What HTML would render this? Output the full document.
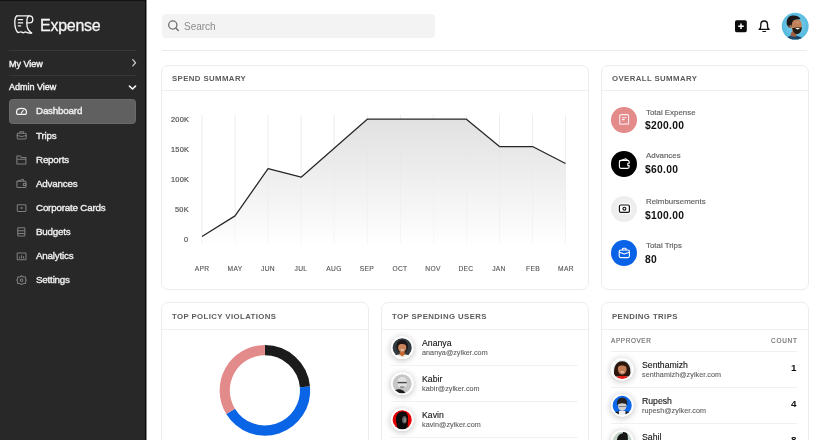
<!DOCTYPE html>
<html><head><meta charset="utf-8">
<style>
*{margin:0;padding:0;box-sizing:border-box}
html,body{width:825px;height:440px;overflow:hidden;background:#fff;font-family:"Liberation Sans",sans-serif}
div{position:absolute;white-space:nowrap;line-height:1;will-change:transform}
svg{position:absolute;overflow:visible}
</style></head><body>

<div style="left:0;top:0;width:146px;height:440px;background:#282828;border-right:1px solid #0a0a0a"></div>
<div style="left:0;top:0;width:145px;height:1px;background:#121212"></div>
<div style="left:146px;top:0;width:1px;height:440px;background:#8a8a8a"></div>
<svg style="left:0;top:0" width="146" height="50" viewBox="0 0 146 50">
<g fill="none" stroke="#f4f4f4" stroke-width="1.35" stroke-linecap="round" stroke-linejoin="round">
<path d="M16.9 15.9 H29.4 C31.6 15.9 32.8 17.6 32.8 19.5 C32.8 21.5 31.5 22.9 29.6 22.9 H26.8"/>
<path d="M29.2 15.9 C27.6 16.6 26.9 18.6 26.9 21 V24.5 C26.9 28.2 28.6 31 31.6 33"/>
<path d="M16.9 15.9 C15.5 16.8 14.8 18.8 14.8 22.3 C14.8 26.5 15.7 30.2 17.6 32.3"/>
<path d="M17.6 32.3 C18.8 33.3 19.6 31.4 21 31.9 C22.3 32.5 23.2 33.3 24.4 32.3 C25.6 31.4 26.8 32.7 28 32.8 C29.2 33 30.3 33 31.6 33"/>
<path d="M18.3 19.7 H22.6 M18.3 22.9 H22.6 M18.3 25.9 H20.6" stroke-width="1.3"/>
</g></svg>
<div style="left:39.8px;top:18.4px;font-size:16px;color:#f4f4f4;letter-spacing:-0.25px;-webkit-text-stroke:0.3px #f4f4f4">Expense</div>
<div style="left:9px;top:50px;width:127px;height:1px;background:#373737"></div>
<div style="left:9px;top:75px;width:127px;height:1px;background:#373737"></div>
<div style="left:9px;top:59.5px;font-size:9px;color:#f2f2f2;-webkit-text-stroke:0.4px #f2f2f2">My View</div>
<div style="left:9px;top:82.5px;font-size:9px;color:#f2f2f2;-webkit-text-stroke:0.4px #f2f2f2">Admin View</div>
<svg style="left:0;top:0" width="146" height="100" viewBox="0 0 146 100">
<path d="M132.8 59.6 L135.5 62.8 L132.8 65.9" fill="none" stroke="#c4c4c4" stroke-width="1.35" stroke-linecap="round" stroke-linejoin="round"/>
<path d="M129.5 86.1 L132.5 89 L135.5 86.1" fill="none" stroke="#f4f4f4" stroke-width="1.6" stroke-linecap="round" stroke-linejoin="round"/>
</svg>
<div style="left:9px;top:98.8px;width:127px;height:24.7px;background:#606060;border:1px solid #6a6a6a;border-radius:3.5px"></div>
<div style="left:35.8px;top:106.40px;font-size:9.8px;letter-spacing:-0.2px;color:#f0f0f0;-webkit-text-stroke:0.35px #f0f0f0">Dashboard</div>
<div style="left:35.8px;top:130.50px;font-size:9.8px;letter-spacing:-0.2px;color:#f0f0f0;-webkit-text-stroke:0.35px #f0f0f0">Trips</div>
<div style="left:35.8px;top:154.60px;font-size:9.8px;letter-spacing:-0.2px;color:#f0f0f0;-webkit-text-stroke:0.35px #f0f0f0">Reports</div>
<div style="left:35.8px;top:178.70px;font-size:9.8px;letter-spacing:-0.2px;color:#f0f0f0;-webkit-text-stroke:0.35px #f0f0f0">Advances</div>
<div style="left:35.8px;top:202.80px;font-size:9.8px;letter-spacing:-0.2px;color:#f0f0f0;-webkit-text-stroke:0.35px #f0f0f0">Corporate Cards</div>
<div style="left:35.8px;top:226.90px;font-size:9.8px;letter-spacing:-0.2px;color:#f0f0f0;-webkit-text-stroke:0.35px #f0f0f0">Budgets</div>
<div style="left:35.8px;top:251.00px;font-size:9.8px;letter-spacing:-0.2px;color:#f0f0f0;-webkit-text-stroke:0.35px #f0f0f0">Analytics</div>
<div style="left:35.8px;top:275.10px;font-size:9.8px;letter-spacing:-0.2px;color:#f0f0f0;-webkit-text-stroke:0.35px #f0f0f0">Settings</div>
<svg style="left:0;top:0" width="146" height="300" viewBox="0 0 146 300">
<g fill="none" stroke="#7e7e7e" stroke-width="1.05" stroke-linecap="round" stroke-linejoin="round">
<path d="M17.3 114.4 C16.6 113.6 16.5 112.8 16.5 111.9 C16.5 109.6 18.8 108.3 21.5 108.3 C24.2 108.3 26.5 109.6 26.5 111.9 C26.5 112.8 26.4 113.6 25.7 114.4 Z" stroke="#f4f4f4" stroke-width="1.25"/>
<path d="M21.2 113 L23.2 110.5" stroke="#f4f4f4" stroke-width="1.2"/>
<rect x="17.2" y="133.3" width="9" height="5.7" rx="0.9"/><path d="M19.9 133.3 V131.8 H23.5 V133.3 M17.2 135.6 L21.7 136.6 L26.2 135.6"/>
<path d="M16.9 164 V156 H20.3 L21.3 157.5 H25.9 V164 Z M16.9 159.2 H25.9"/>
<rect x="16.9" y="181.2" width="9" height="6.3" rx="0.8"/><path d="M17.4 181.2 L23.2 179.3 L23.8 181.2 M23.4 183.4 H25.9 V185.5 H23.4 Z"/>
<rect x="17.3" y="204.7" width="8.6" height="6.7" rx="0.6"/><circle cx="21.6" cy="208" r="0.55" fill="#7e7e7e"/>
<rect x="17.8" y="227.8" width="7" height="8.2" rx="0.6"/><path d="M17.8 230.8 H24.8 M17.8 233.4 H24.8"/>
<rect x="17.2" y="253" width="8.8" height="6.8" rx="0.6"/><path d="M19.6 258 V257 M21.6 258 V255.6 M23.6 258 V256.6"/>
<path d="M21.6 275.8 L23.4 277 L25.5 277 L25.6 279.2 L26.4 280.2 L25.6 281.2 L25.5 283.4 L23.4 283.4 L21.6 284.6 L19.8 283.4 L17.7 283.4 L17.6 281.2 L16.8 280.2 L17.6 279.2 L17.7 277 L19.8 277 Z"/><circle cx="21.6" cy="280.2" r="1.3"/>
</g></svg>
<div style="left:162px;top:14px;width:273px;height:24px;background:#f3f3f3;border-radius:4px"></div>
<svg style="left:0;top:0" width="200" height="50" viewBox="0 0 200 50">
<circle cx="172.8" cy="25" r="4.1" fill="none" stroke="#6c6c6c" stroke-width="1.3"/>
<path d="M175.8 28 L178.3 30.5" stroke="#6c6c6c" stroke-width="1.4" stroke-linecap="round"/>
</svg>
<div style="left:184px;top:21.6px;font-size:10px;color:#8c8c8c">Search</div>
<div style="left:162px;top:50px;width:645px;height:1px;background:#ebebeb"></div>
<svg style="left:0;top:0" width="825" height="50" viewBox="0 0 825 50">
<rect x="735" y="20.2" width="11.8" height="12" rx="1.6" fill="#0b0b0b"/>
<path d="M741 23.5 V29.1 M738.2 26.3 H743.8" stroke="#fff" stroke-width="1.5"/>
<path d="M759.2 29.4 C760.4 28.7 760.8 27.6 760.8 26.2 V24.6 C760.8 22.4 762.3 21 764.15 21 C766 21 767.5 22.4 767.5 24.6 V26.2 C767.5 27.6 767.9 28.7 769.1 29.4 Z" fill="none" stroke="#111" stroke-width="1.35" stroke-linejoin="round"/>
<path d="M762.8 31.5 H765.6" stroke="#111" stroke-width="1.2" stroke-linecap="round"/>
</svg>
<svg style="left:0;top:0" width="825" height="50" viewBox="0 0 825 50">
<defs><clipPath id="cav"><circle cx="795.2" cy="26.2" r="13.4"/></clipPath>
<radialGradient id="gav" cx="0.5" cy="0.45" r="0.6"><stop offset="0" stop-color="#86d3ee"/><stop offset="1" stop-color="#4cb5dc"/></radialGradient>
<filter id="bl1"><feGaussianBlur stdDeviation="0.35"/></filter></defs>
<circle cx="795.2" cy="26.2" r="13.4" fill="url(#gav)"/>
<g clip-path="url(#cav)" filter="url(#bl1)">
<path d="M784 41 C786 37.5 789 35.5 793 35.5 C798 35.5 802 37 805.5 41 Z" fill="#1f4a6a"/>
<path d="M790.5 36 C791 33 791.5 31.5 793 31 L797 33 C796.5 35 796 36 795.5 37 Z" fill="#9a5f40"/>
<path d="M791.3 23 C791.3 28 792 32.8 795.8 33.8 C799.6 34.6 801.8 31 801.8 25.5 C801.8 21 799.5 19.3 796.5 19.4 C793.8 19.5 791.4 20.5 791.3 23 Z" fill="#c08058"/>
<path d="M786.8 24.5 C786.2 20 787.8 16.3 792 15.6 C796 15 799.6 16.2 800.6 19.6 C798.5 19 796 19.3 794 20.2 C792.4 21 791.8 23.2 791.6 26.8 C790.2 26.8 788.2 26.5 786.8 24.5 Z" fill="#1d1816"/>
<path d="M786.8 24.5 C787.5 26.5 788.5 27.5 790 28 L791.2 26.8 C790 26 788.5 25.5 786.8 24.5 Z" fill="#4a4440"/>
<ellipse cx="790.6" cy="26.4" rx="1.2" ry="1.7" fill="#a86a48"/>
<path d="M792.2 28 C792.8 32 794.5 34 796.8 34 C799.8 34 801.8 31.5 801.8 27 C800.8 27.8 799.8 27.6 798 27.4 C795.8 27.3 793.8 28 792.2 28 Z" fill="#211a17"/>
<path d="M795.3 28.1 Q797.6 30.8 800 28 Z" fill="#f6f2ec"/>
<ellipse cx="797.5" cy="22.5" rx="2" ry="1" fill="#d9a07a" opacity="0.6"/>
</g></svg>
<div style="left:161px;top:64.5px;width:427.5px;height:225px;border:1px solid #ececec;border-radius:7px;background:#fff"></div>
<div style="left:162px;top:90.0px;width:425.5px;height:1px;background:#efefef"></div>
<div style="left:171.8px;top:75.0px;font-size:8px;color:#5a5a5a;letter-spacing:0.4px;font-size:7.8px;color:#5c5c5c;font-weight:bold">SPEND SUMMARY</div>
<div style="left:601px;top:64.5px;width:208px;height:225px;border:1px solid #ececec;border-radius:7px;background:#fff"></div>
<div style="left:602px;top:90.0px;width:206px;height:1px;background:#efefef"></div>
<div style="left:611.8px;top:75.0px;font-size:8px;color:#5a5a5a;letter-spacing:0.4px;font-size:7.8px;color:#5c5c5c;font-weight:bold">OVERALL SUMMARY</div>
<div style="left:161px;top:302px;width:208px;height:160px;border:1px solid #ececec;border-radius:7px;background:#fff"></div>
<div style="left:162px;top:329px;width:206px;height:1px;background:#efefef"></div>
<div style="left:171.8px;top:312.5px;font-size:8px;color:#5a5a5a;letter-spacing:0.4px;font-size:7.8px;color:#5c5c5c;font-weight:bold">TOP POLICY VIOLATIONS</div>
<div style="left:381px;top:302px;width:208px;height:160px;border:1px solid #ececec;border-radius:7px;background:#fff"></div>
<div style="left:382px;top:329px;width:206px;height:1px;background:#efefef"></div>
<div style="left:391.8px;top:312.5px;font-size:8px;color:#5a5a5a;letter-spacing:0.4px;font-size:7.8px;color:#5c5c5c;font-weight:bold">TOP SPENDING USERS</div>
<div style="left:601px;top:302px;width:208px;height:160px;border:1px solid #ececec;border-radius:7px;background:#fff"></div>
<div style="left:602px;top:329px;width:206px;height:1px;background:#efefef"></div>
<div style="left:611.8px;top:312.5px;font-size:8px;color:#5a5a5a;letter-spacing:0.4px;font-size:7.8px;color:#5c5c5c;font-weight:bold">PENDING TRIPS</div>
<svg style="left:0;top:0" width="825" height="300" viewBox="0 0 825 300">
<defs><linearGradient id="ga" x1="0" y1="0" x2="0" y2="1"><stop offset="0" stop-color="#dedede"/><stop offset="1" stop-color="#ffffff"/></linearGradient></defs>
<line x1="202.00" y1="115" x2="202.00" y2="244" stroke="#f1f1f1" stroke-width="1"/>
<line x1="235.05" y1="115" x2="235.05" y2="244" stroke="#f1f1f1" stroke-width="1"/>
<line x1="268.10" y1="115" x2="268.10" y2="244" stroke="#f1f1f1" stroke-width="1"/>
<line x1="301.15" y1="115" x2="301.15" y2="244" stroke="#f1f1f1" stroke-width="1"/>
<line x1="334.20" y1="115" x2="334.20" y2="244" stroke="#f1f1f1" stroke-width="1"/>
<line x1="367.25" y1="115" x2="367.25" y2="244" stroke="#f1f1f1" stroke-width="1"/>
<line x1="400.30" y1="115" x2="400.30" y2="244" stroke="#f1f1f1" stroke-width="1"/>
<line x1="433.35" y1="115" x2="433.35" y2="244" stroke="#f1f1f1" stroke-width="1"/>
<line x1="466.40" y1="115" x2="466.40" y2="244" stroke="#f1f1f1" stroke-width="1"/>
<line x1="499.45" y1="115" x2="499.45" y2="244" stroke="#f1f1f1" stroke-width="1"/>
<line x1="532.50" y1="115" x2="532.50" y2="244" stroke="#f1f1f1" stroke-width="1"/>
<line x1="565.55" y1="115" x2="565.55" y2="244" stroke="#f1f1f1" stroke-width="1"/>
<polygon points="202.00,244 202.00,236.50 235.05,215.90 268.10,168.60 301.15,177.20 334.20,148.20 367.25,119.20 400.30,119.20 433.35,119.20 466.40,119.20 499.45,146.50 532.50,146.50 565.55,163.50 565.55,244" fill="url(#ga)" opacity="0.9"/>
<line x1="202.00" y1="115" x2="202.00" y2="244" stroke="#e6e6e6" stroke-width="0.6" opacity="0.5"/>
<line x1="235.05" y1="115" x2="235.05" y2="244" stroke="#e6e6e6" stroke-width="0.6" opacity="0.5"/>
<line x1="268.10" y1="115" x2="268.10" y2="244" stroke="#e6e6e6" stroke-width="0.6" opacity="0.5"/>
<line x1="301.15" y1="115" x2="301.15" y2="244" stroke="#e6e6e6" stroke-width="0.6" opacity="0.5"/>
<line x1="334.20" y1="115" x2="334.20" y2="244" stroke="#e6e6e6" stroke-width="0.6" opacity="0.5"/>
<line x1="367.25" y1="115" x2="367.25" y2="244" stroke="#e6e6e6" stroke-width="0.6" opacity="0.5"/>
<line x1="400.30" y1="115" x2="400.30" y2="244" stroke="#e6e6e6" stroke-width="0.6" opacity="0.5"/>
<line x1="433.35" y1="115" x2="433.35" y2="244" stroke="#e6e6e6" stroke-width="0.6" opacity="0.5"/>
<line x1="466.40" y1="115" x2="466.40" y2="244" stroke="#e6e6e6" stroke-width="0.6" opacity="0.5"/>
<line x1="499.45" y1="115" x2="499.45" y2="244" stroke="#e6e6e6" stroke-width="0.6" opacity="0.5"/>
<line x1="532.50" y1="115" x2="532.50" y2="244" stroke="#e6e6e6" stroke-width="0.6" opacity="0.5"/>
<line x1="565.55" y1="115" x2="565.55" y2="244" stroke="#e6e6e6" stroke-width="0.6" opacity="0.5"/>
<polyline points="202.00,236.50 235.05,215.90 268.10,168.60 301.15,177.20 334.20,148.20 367.25,119.20 400.30,119.20 433.35,119.20 466.40,119.20 499.45,146.50 532.50,146.50 565.55,163.50" fill="none" stroke="#262626" stroke-width="1.25" stroke-linejoin="round"/>
</svg>
<div style="right:636.2px;top:115.90px;font-size:7.4px;color:#555;letter-spacing:0.25px;-webkit-text-stroke:0.2px #555">200K</div>
<div style="right:636.2px;top:146.00px;font-size:7.4px;color:#555;letter-spacing:0.25px;-webkit-text-stroke:0.2px #555">150K</div>
<div style="right:636.2px;top:176.10px;font-size:7.4px;color:#555;letter-spacing:0.25px;-webkit-text-stroke:0.2px #555">100K</div>
<div style="right:636.2px;top:206.20px;font-size:7.4px;color:#555;letter-spacing:0.25px;-webkit-text-stroke:0.2px #555">50K</div>
<div style="right:636.2px;top:236.40px;font-size:7.4px;color:#555;letter-spacing:0.25px;-webkit-text-stroke:0.2px #555">0</div>
<div style="left:182.00px;width:40px;text-align:center;top:266px;font-size:6.7px;color:#555;letter-spacing:0.3px;-webkit-text-stroke:0.12px #555">APR</div>
<div style="left:215.05px;width:40px;text-align:center;top:266px;font-size:6.7px;color:#555;letter-spacing:0.3px;-webkit-text-stroke:0.12px #555">MAY</div>
<div style="left:248.10px;width:40px;text-align:center;top:266px;font-size:6.7px;color:#555;letter-spacing:0.3px;-webkit-text-stroke:0.12px #555">JUN</div>
<div style="left:281.15px;width:40px;text-align:center;top:266px;font-size:6.7px;color:#555;letter-spacing:0.3px;-webkit-text-stroke:0.12px #555">JUL</div>
<div style="left:314.20px;width:40px;text-align:center;top:266px;font-size:6.7px;color:#555;letter-spacing:0.3px;-webkit-text-stroke:0.12px #555">AUG</div>
<div style="left:347.25px;width:40px;text-align:center;top:266px;font-size:6.7px;color:#555;letter-spacing:0.3px;-webkit-text-stroke:0.12px #555">SEP</div>
<div style="left:380.30px;width:40px;text-align:center;top:266px;font-size:6.7px;color:#555;letter-spacing:0.3px;-webkit-text-stroke:0.12px #555">OCT</div>
<div style="left:413.35px;width:40px;text-align:center;top:266px;font-size:6.7px;color:#555;letter-spacing:0.3px;-webkit-text-stroke:0.12px #555">NOV</div>
<div style="left:446.40px;width:40px;text-align:center;top:266px;font-size:6.7px;color:#555;letter-spacing:0.3px;-webkit-text-stroke:0.12px #555">DEC</div>
<div style="left:479.45px;width:40px;text-align:center;top:266px;font-size:6.7px;color:#555;letter-spacing:0.3px;-webkit-text-stroke:0.12px #555">JAN</div>
<div style="left:512.50px;width:40px;text-align:center;top:266px;font-size:6.7px;color:#555;letter-spacing:0.3px;-webkit-text-stroke:0.12px #555">FEB</div>
<div style="left:545.55px;width:40px;text-align:center;top:266px;font-size:6.7px;color:#555;letter-spacing:0.3px;-webkit-text-stroke:0.12px #555">MAR</div>
<div style="left:611.4px;top:107.20px;width:25.8px;height:25.8px;border-radius:50%;background:#e38a8a"></div>
<div style="left:645.6px;top:108.50px;font-size:7.9px;color:#606060;-webkit-text-stroke:0.15px #606060">Total Expense</div>
<div style="left:645.4px;top:120.70px;font-size:10.3px;color:#111;font-weight:bold;letter-spacing:0.3px">$200.00</div>
<div style="left:611.4px;top:150.80px;width:25.8px;height:25.8px;border-radius:50%;background:#000000"></div>
<div style="left:645.6px;top:152.40px;font-size:7.9px;color:#606060;-webkit-text-stroke:0.15px #606060">Advances</div>
<div style="left:645.4px;top:165.10px;font-size:10.3px;color:#111;font-weight:bold;letter-spacing:0.3px">$60.00</div>
<div style="left:611.4px;top:195.70px;width:25.8px;height:25.8px;border-radius:50%;background:#eeeeee"></div>
<div style="left:645.6px;top:198.20px;font-size:7.9px;color:#606060;-webkit-text-stroke:0.15px #606060">Reimbursements</div>
<div style="left:645.4px;top:210.80px;font-size:10.3px;color:#111;font-weight:bold;letter-spacing:0.3px">$100.00</div>
<div style="left:611.4px;top:239.70px;width:25.8px;height:25.8px;border-radius:50%;background:#0a63e6"></div>
<div style="left:645.6px;top:242.20px;font-size:7.9px;color:#606060;-webkit-text-stroke:0.15px #606060">Total Trips</div>
<div style="left:645.4px;top:254.50px;font-size:10.3px;color:#111;font-weight:bold;letter-spacing:0.3px">80</div>
<svg style="left:0;top:0" width="825" height="300" viewBox="0 0 825 300">
<g fill="none" stroke="#fdf0f0" stroke-width="1.05" stroke-linejoin="round" stroke-linecap="round">
<path d="M621.2 114.6 H627.2 C628.1 114.6 628.6 115.1 628.6 116 V123.4 C628.6 124 628.2 124.4 627.6 124.2 C626.8 123.9 626 123.6 625.2 123.8 C624.5 124 623.8 124.3 623 124.2 C622.2 124 621.6 123.8 620.9 124.1 C620.3 124.3 619.7 124 619.7 123.4 V116 C619.7 115.1 620.3 114.6 621.2 114.6 Z"/>
<path d="M622.4 117.8 H626 M622.4 119.6 H624.2"/>
</g>
<g fill="none" stroke="#ffffff" stroke-width="1.1" stroke-linejoin="round" stroke-linecap="round">
<path d="M621 160.4 H627.6 C628.6 160.4 629.2 161 629.2 162 V163.3 H627.8 V165.6 H629.2 V166.8 C629.2 167.8 628.6 168.4 627.6 168.4 H621 C620 168.4 619.4 167.8 619.4 166.8 V162 C619.4 161 620 160.4 621 160.4 Z"/>
<path d="M619.8 161 L625.6 158.8 L627.6 160.4"/>
</g>
<rect x="617.6" y="203.2" width="13.6" height="10.8" rx="2.5" fill="#ffffff" opacity="0.9"/>
<g fill="none" stroke="#151515" stroke-width="1.2">
<rect x="619.4" y="205" width="10" height="7.4" rx="1.4"/>
<circle cx="624.4" cy="208.7" r="1.45"/>
</g>
<g fill="none" stroke="#fff" stroke-width="1.1" stroke-linejoin="round" stroke-linecap="round">
<rect x="619.2" y="250" width="10.2" height="7.6" rx="1.5"/>
<path d="M622.6 250 V248.7 C622.6 248.4 622.8 248.3 623.1 248.3 H625.5 C625.8 248.3 626 248.4 626 248.7 V250 M619.4 252.2 L624.3 254 L629.2 252.2"/>
</g>
</svg>
<svg style="left:0;top:0" width="825" height="440" viewBox="0 0 825 440"><path d="M264.90 350.20 A40.2 40.2 0 0 1 304.95 386.90" fill="none" stroke="#1b1b1b" stroke-width="10.2"/><path d="M304.95 386.90 A40.2 40.2 0 0 1 230.62 411.40" fill="none" stroke="#0a64e6" stroke-width="10.2"/><path d="M230.62 411.40 A40.2 40.2 0 0 1 264.90 350.20" fill="none" stroke="#e38a8a" stroke-width="10.2"/></svg>
<svg style="left:0;top:0" width="0" height="0"><defs><filter id="sh" x="-80%" y="-80%" width="260%" height="260%"><feGaussianBlur in="SourceAlpha" stdDeviation="3.6"/><feOffset dy="0.5" result="b"/><feComponentTransfer><feFuncA type="linear" slope="0.28"/></feComponentTransfer><feMerge><feMergeNode/><feMergeNode in="SourceGraphic"/></feMerge></filter><filter id="bl2"><feGaussianBlur stdDeviation="0.4"/></filter></defs></svg>
<svg style="left:0;top:0" width="825" height="460" viewBox="0 0 825 460"><defs><clipPath id="cananya"><circle cx="402.2" cy="347.7" r="9.55"/></clipPath></defs><circle cx="402.2" cy="347.7" r="11.25" fill="#fff" filter="url(#sh)"/><g clip-path="url(#cananya)" filter="url(#bl2)"><rect x="390.2" y="335.7" width="24" height="24" fill="#323b40"/><ellipse cx="402.20" cy="346.50" rx="5.8" ry="6.8" fill="#1c1715"/><path d="M-9 11 C-8 7.5 -5 6.5 0 6.5 C5 6.5 8 7.5 9 11 Z" fill="#f2eeea" transform="translate(402.2,347.7)"/><path d="M-2.4 3.5 L2.4 3.5 L2.6 6.8 L0 8.8 L-2.6 6.8 Z" fill="#c6692f" transform="translate(402.2,347.7)"/><ellipse cx="402.20" cy="347.50" rx="4.1" ry="5.1" fill="#c8845c"/><path d="M-4.4 -1.8 C-4.6 -6 -2.5 -6.8 0 -6.8 C3 -6.8 4.6 -5.5 4.4 -1.8 C3.5 -4.2 -3 -4.5 -4.4 -1.8 Z" fill="#1c1715" transform="translate(402.2,347.7)"/><ellipse cx="402.20" cy="349.90" rx="1.6" ry="0.6" fill="#f0e6dc"/></g></svg>
<div style="left:421.8px;top:338.90px;font-size:8.7px;color:#141414;-webkit-text-stroke:0.12px #141414">Ananya</div>
<div style="left:421.8px;top:349.40px;font-size:7.2px;color:#5c5c5c;-webkit-text-stroke:0.1px #5c5c5c;letter-spacing:0.05px">ananya@zylker.com</div>
<svg style="left:0;top:0" width="825" height="460" viewBox="0 0 825 460"><defs><clipPath id="ckabir"><circle cx="402.2" cy="383.7" r="9.55"/></clipPath></defs><circle cx="402.2" cy="383.7" r="11.25" fill="#fff" filter="url(#sh)"/><g clip-path="url(#ckabir)" filter="url(#bl2)"><rect x="390.2" y="371.7" width="24" height="24" fill="#c6c6c6"/><path d="M-10 11 C-8 6 -5 5 -1 6 C1 6.5 3 8 4 11 Z" fill="#1e1e1e" transform="translate(402.2,383.7)"/><ellipse cx="402.20" cy="382.70" rx="4.8" ry="6" fill="#e2e2e2"/><path d="M-4.6 -1.8 H4.6 V-0.4 H-4.6 Z" fill="#4a4a4a" transform="translate(402.2,383.7)"/><ellipse cx="402.20" cy="387.20" rx="2.5" ry="1.2" fill="#9a9a9a"/></g></svg>
<div style="left:421.8px;top:374.90px;font-size:8.7px;color:#141414;-webkit-text-stroke:0.12px #141414">Kabir</div>
<div style="left:421.8px;top:385.40px;font-size:7.2px;color:#5c5c5c;-webkit-text-stroke:0.1px #5c5c5c;letter-spacing:0.05px">kabir@zylker.com</div>
<svg style="left:0;top:0" width="825" height="460" viewBox="0 0 825 460"><defs><clipPath id="ckavin"><circle cx="402.2" cy="419.7" r="9.55"/></clipPath></defs><circle cx="402.2" cy="419.7" r="11.25" fill="#fff" filter="url(#sh)"/><g clip-path="url(#ckavin)" filter="url(#bl2)"><rect x="390.2" y="407.7" width="24" height="24" fill="#e20000"/><path d="M-4.5 11 C-4.5 7 -6 4 -6.2 0 C-6.5 -5 -3.5 -8.2 0.5 -8.2 C4.5 -8.2 6 -5 5.8 -1 C5.6 2.5 5.2 5 5.5 11 Z" fill="#080808" transform="translate(402.2,419.7)"/><ellipse cx="404.40" cy="419.70" rx="2.4" ry="3.8" fill="#5a5a5a"/><ellipse cx="404.80" cy="420.20" rx="1.2" ry="2.4" fill="#8a8a8a"/></g></svg>
<div style="left:421.8px;top:410.90px;font-size:8.7px;color:#141414;-webkit-text-stroke:0.12px #141414">Kavin</div>
<div style="left:421.8px;top:421.40px;font-size:7.2px;color:#5c5c5c;-webkit-text-stroke:0.1px #5c5c5c;letter-spacing:0.05px">kavin@zylker.com</div>
<div style="left:391px;top:365px;width:187px;height:1px;background:#f1f1f1"></div>
<div style="left:391px;top:401px;width:187px;height:1px;background:#f1f1f1"></div>
<div style="left:391px;top:437px;width:187px;height:1px;background:#f1f1f1"></div>
<div style="left:610.8px;top:337.9px;font-size:6.4px;color:#6a6a6a;letter-spacing:0.62px;-webkit-text-stroke:0.15px #6a6a6a">APPROVER</div>
<div style="right:28.20px;top:337.9px;font-size:6.4px;color:#6a6a6a;letter-spacing:0.8px;margin-right:-0.8px;-webkit-text-stroke:0.15px #6a6a6a">COUNT</div>
<div style="left:611px;top:351px;width:186px;height:1px;background:#f0f0f0"></div>
<div style="left:611px;top:387px;width:186px;height:1px;background:#f0f0f0"></div>
<div style="left:611px;top:423px;width:186px;height:1px;background:#f0f0f0"></div>
<svg style="left:0;top:0" width="825" height="460" viewBox="0 0 825 460"><defs><clipPath id="csenthamizh"><circle cx="622.2" cy="369.4" r="9.55"/></clipPath></defs><circle cx="622.2" cy="369.4" r="11.25" fill="#fff" filter="url(#sh)"/><g clip-path="url(#csenthamizh)" filter="url(#bl2)"><rect x="610.2" y="357.4" width="24" height="24" fill="#e6eef4"/><path d="M-8 7 C-9 -1 -7 -8.2 0 -8.2 C7 -8.2 9 -1 8 7 Z" fill="#2b1510" transform="translate(622.2,369.4)"/><path d="M-9 11 C-7 7 -4 6.5 0 6.5 C4 6.5 7 7 9 11 Z" fill="#e41d12" transform="translate(622.2,369.4)"/><ellipse cx="622.20" cy="369.10" rx="4.4" ry="5.4" fill="#c27b56"/><path d="M-4.6 -2.5 C-4 -6 -1 -6.8 1 -6.5 C3.5 -6 4.8 -4 4.6 -2 C3 -4.2 -2 -4.5 -4.6 -2.5 Z" fill="#2b1510" transform="translate(622.2,369.4)"/><ellipse cx="622.20" cy="371.90" rx="1.7" ry="0.7" fill="#f2e6de"/></g></svg>
<div style="left:641.5px;top:360.90px;font-size:8.7px;color:#141414;-webkit-text-stroke:0.12px #141414">Senthamizh</div>
<div style="left:641.5px;top:371.40px;font-size:7.2px;color:#5c5c5c;-webkit-text-stroke:0.1px #5c5c5c;letter-spacing:0.05px">senthamizh@zylker.com</div>
<div style="right:28.20px;top:362.90px;font-size:9.8px;color:#111;font-weight:bold">1</div>
<svg style="left:0;top:0" width="825" height="460" viewBox="0 0 825 460"><defs><clipPath id="crupesh"><circle cx="622.2" cy="405.4" r="9.55"/></clipPath></defs><circle cx="622.2" cy="405.4" r="11.25" fill="#fff" filter="url(#sh)"/><g clip-path="url(#crupesh)" filter="url(#bl2)"><rect x="610.2" y="393.4" width="24" height="24" fill="#0c68e9"/><path d="M-10 11 C-8 6.5 -5 5.5 0 5.5 C5 5.5 8 6.5 10 11 Z" fill="#1e1e1e" transform="translate(622.2,405.4)"/><path d="M-3.4 5.5 L3.4 5.5 L3 11 L-3 11 Z" fill="#ececec" transform="translate(622.2,405.4)"/><ellipse cx="622.20" cy="405.90" rx="4.2" ry="5" fill="#cfcfcf"/><path d="M-5 0 C-5.8 -6.2 -2.5 -7.6 0 -7.6 C2.8 -7.6 5.8 -6.2 5 0 C4 -3 -4 -3 -5 0 Z" fill="#262020" transform="translate(622.2,405.4)"/><path d="M-3.5 0.6 H3.5 V1.4 H-3.5 Z" fill="#6a6a6a" transform="translate(622.2,405.4)"/></g></svg>
<div style="left:641.5px;top:396.90px;font-size:8.7px;color:#141414;-webkit-text-stroke:0.12px #141414">Rupesh</div>
<div style="left:641.5px;top:407.40px;font-size:7.2px;color:#5c5c5c;-webkit-text-stroke:0.1px #5c5c5c;letter-spacing:0.05px">rupesh@zylker.com</div>
<div style="right:28.20px;top:398.90px;font-size:9.8px;color:#111;font-weight:bold">4</div>
<svg style="left:0;top:0" width="825" height="460" viewBox="0 0 825 460"><defs><clipPath id="csahil"><circle cx="622.2" cy="441.4" r="9.55"/></clipPath></defs><circle cx="622.2" cy="441.4" r="11.25" fill="#fff" filter="url(#sh)"/><g clip-path="url(#csahil)" filter="url(#bl2)"><rect x="610.2" y="429.4" width="24" height="24" fill="#c4d3c8"/><ellipse cx="622.20" cy="443.90" rx="4.2" ry="5.2" fill="#d0b8a4"/><path d="M-5.2 1.5 C-5.8 -5.5 -2.5 -8 0.5 -8 L1 -10 L4.5 -9.5 C6 -6 6 -2 5.2 1.5 C3 -2 -3 -2 -5.2 1.5 Z" fill="#161616" transform="translate(622.2,441.4)"/></g></svg>
<div style="left:641.5px;top:432.90px;font-size:8.7px;color:#141414;-webkit-text-stroke:0.12px #141414">Sahil</div>
<div style="left:641.5px;top:443.40px;font-size:7.2px;color:#5c5c5c;-webkit-text-stroke:0.1px #5c5c5c;letter-spacing:0.05px">sahil@zylker.com</div>
<div style="right:28.20px;top:434.90px;font-size:9.8px;color:#111;font-weight:bold">8</div>
</body></html>
